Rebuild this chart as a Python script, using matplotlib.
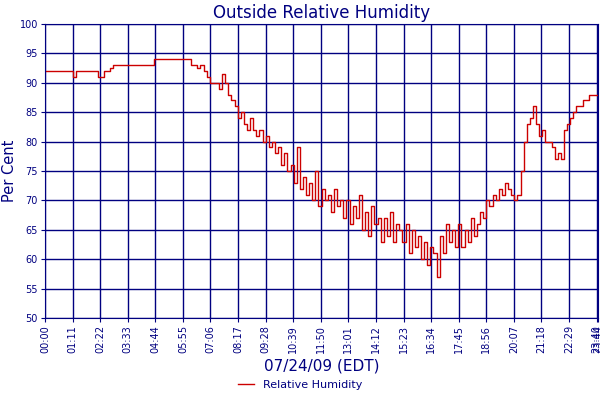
import matplotlib
matplotlib.use("Agg")
import matplotlib.pyplot as plt
import numpy as np

step_min = 8
humidity = [92]*9 + [91, 92, 92] + [92, 92, 92, 92, 92, 91] + [91, 92, 92] + \
    [92.5, 93, 93, 93, 93] + [93]*9 + [94]*12 + [93, 93, 92.5, 93] + \
    [92, 91, 90, 90, 90] + [89, 91.5, 90, 88, 87] + [86, 84, 85, 83, 82, 84] + \
    [82, 81, 82, 80, 81, 79] + [80, 78, 79, 76, 78, 75] + [76, 73, 79, 72, 74, 71] + \
    [73, 70, 75, 69, 72, 70] + [71, 68, 72, 69, 70, 67] + \
    [70, 66, 69, 67, 71, 65] + [68, 64, 69, 66, 67, 63] + [67, 64, 68, 63, 66, 65] + \
    [63, 66, 61, 65, 62, 64] + [60, 63, 59, 62, 61, 57] + [64, 61, 66, 63, 65, 62] + \
    [66, 62, 65, 63, 67, 64] + [66, 68, 67, 70, 69, 71] + [70, 72, 71, 73, 72, 71] + \
    [70, 71, 75, 80, 83, 84] + [86, 83, 81, 82, 80, 80] + [79, 77, 78, 77, 82, 83] + \
    [84, 85, 86, 86, 87, 87, 88, 88, 88, 88]
minutes = [i*step_min for i in range(len(humidity))]

tick_labels = ["00:00", "01:11", "02:22", "03:33", "04:44", "05:55", "07:06", "08:17",
               "09:28", "10:39", "11:50", "13:01", "14:12", "15:23", "16:34", "17:45",
               "18:56", "20:07", "21:18", "22:29", "23:40", "23:44"]
tick_pos = [int(s[:2])*60 + int(s[3:]) for s in tick_labels]

navy = "#000080"
fig = plt.figure(figsize=(6, 4), dpi=100)
ax = fig.add_axes([0.075, 0.205, 0.922, 0.735])
ax.step(minutes, humidity, where="post", color="#cc0000", lw=1, label="Relative Humidity")
ax.set_xlim(0, 1424)
ax.set_ylim(50, 100)
ax.set_yticks(range(50, 101, 5))
ax.set_xticks(tick_pos)
ax.set_xticklabels(tick_labels, rotation=90)
ax.grid(True, color=navy, lw=1)
ax.tick_params(colors=navy, labelsize=7, length=3, pad=2)
for s in ax.spines.values():
    s.set_color(navy)
ax.set_title("Outside Relative Humidity", color=navy, fontsize=12, pad=4)
ax.set_ylabel("Per Cent", color=navy, fontsize=10.5, labelpad=2)
ax.set_xlabel("07/24/09 (EDT)", color=navy, fontsize=11, labelpad=4)
fig.legend(loc="lower center", bbox_to_anchor=(0.5, 0.0), frameon=False, fontsize=8,
           labelcolor=navy, handlelength=1.5)
fig.savefig("out.png", dpi=100)
